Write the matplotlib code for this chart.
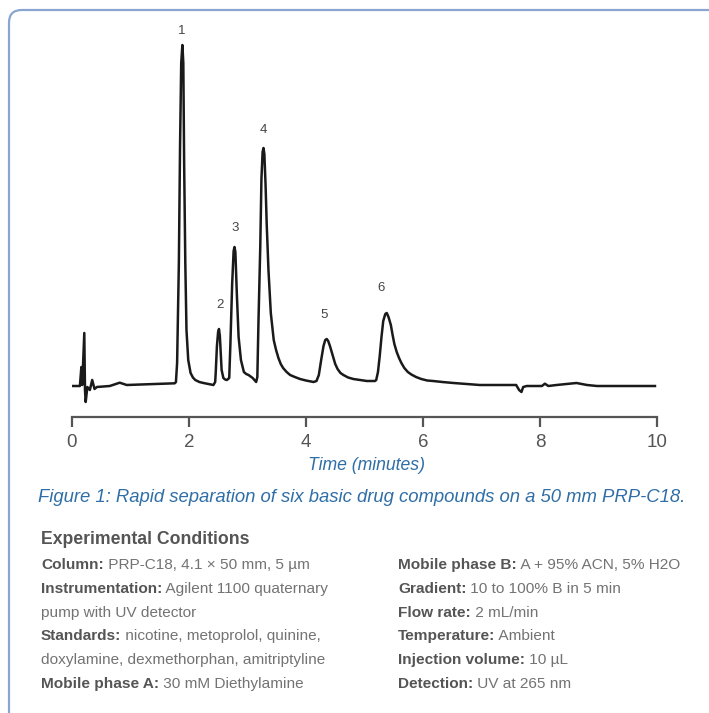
import matplotlib
matplotlib.use('Agg')
import matplotlib.pyplot as plt
from matplotlib.patches import FancyBboxPatch

plt.rcParams['font.family'] = ['Liberation Sans', 'DejaVu Sans']

# chromatogram trace (time in min, detector signal)
time = [-0.03, 0.14, 0.165, 0.18, 0.215, 0.227, 0.239, 0.267, 0.31, 0.35, 0.39, 0.43,
        0.65, 0.82, 0.94, 1.73, 1.76, 1.78, 1.80, 1.83, 1.85, 1.87, 1.89, 1.906, 1.92,
        1.94, 1.96, 1.99, 2.03, 2.07, 2.11, 2.18, 2.25, 2.42, 2.45, 2.46, 2.48, 2.50,
        2.515, 2.53, 2.545, 2.56, 2.59, 2.62, 2.65, 2.69, 2.71, 2.74, 2.765, 2.78,
        2.795, 2.82, 2.85, 2.89, 2.94, 2.98, 3.02, 3.09, 3.15, 3.17, 3.19, 3.22, 3.24,
        3.26, 3.275, 3.29, 3.31, 3.33, 3.36, 3.40, 3.45, 3.49, 3.53, 3.57, 3.61, 3.67,
        3.73, 3.81, 3.90, 4.00, 4.13, 4.18, 4.22, 4.26, 4.30, 4.33, 4.355, 4.38, 4.41,
        4.44, 4.47, 4.50, 4.54, 4.59, 4.64, 4.72, 4.81, 4.92, 5.04, 5.18, 5.20, 5.23,
        5.26, 5.29, 5.32, 5.355, 5.38, 5.41, 5.45, 5.48, 5.51, 5.55, 5.59, 5.63, 5.68,
        5.74, 5.80, 5.88, 5.97, 6.07, 6.17, 6.33, 6.52, 6.75, 6.97, 7.30, 7.59, 7.64,
        7.68, 7.71, 7.77, 8.03, 8.08, 8.14, 8.28, 8.45, 8.62, 8.80, 8.97, 9.96]
signal = [-2, -2, 17, -1, 51, -6, -18, -3, -6, 4, -5, -3,
          -2, 1.3, -1, 0.7, 0.7, 2, 21, 121, 237, 321, 339, 321, 221,
          121, 54, 24, 11, 6.5, 4, 2, 1, -1, 2, 12, 38, 52,
          55, 48, 30, 14, 6, 4.5, 4, 6, 40, 100, 133, 137,
          132, 90, 47, 24, 12, 10, 9, 6, 2, 7, 64, 137, 205,
          232, 236, 230, 200, 160, 114, 71, 44, 34, 26, 20, 16, 12,
          9, 7, 5, 3.5, 2, 3, 9, 24, 38, 44, 45, 43, 38,
          32, 26, 20, 15, 11, 9, 6.5, 5, 4, 3, 3, 4, 12,
          28, 47, 63, 70, 71, 67, 59, 49, 40, 32, 26, 21, 16,
          12, 9.5, 7, 5, 3.5, 3, 2, 1, 0, -1, -1, -1, -6,
          -8, -3, -2, -2, 0.3, -2, -1, 0, 1, -1, -2, -2]

peak_ids = ['1', '2', '3', '4', '5', '6']
peak_t = [1.88, 2.53, 2.79, 3.27, 4.31, 5.29]
peak_y = [353, 79, 156, 254, 69, 96]

xticks = [0, 2, 4, 6, 8, 10]

caption = 'Figure 1: Rapid separation of six basic drug compounds on a 50 mm PRP-C18.'
cond_left = [('Column:', ' PRP-C18, 4.1 × 50 mm, 5 µm'),
             ('Instrumentation:', ' Agilent 1100 quaternary'),
             ('', 'pump with UV detector'),
             ('Standards:', ' nicotine, metoprolol, quinine,'),
             ('', 'doxylamine, dexmethorphan, amitriptyline'),
             ('Mobile phase A:', ' 30 mM Diethylamine')]
cond_right = [('Mobile phase B:', ' A + 95% ACN, 5% H2O'),
              ('Gradient:', ' 10 to 100% B in 5 min'),
              ('Flow rate:', ' 2 mL/min'),
              ('Temperature:', ' Ambient'),
              ('Injection volume:', ' 10 µL'),
              ('Detection:', ' UV at 265 nm')]

W, H = 709, 713
blue = '#2f6ea6'
grey = '#737373'
dark = '#555555'


def fx(px):
    return px / W


def fy(py):
    return 1 - py / H


fig = plt.figure(figsize=(W / 100, H / 100), dpi=100)

# rounded frame, open to the right and bottom
frame = FancyBboxPatch((fx(9), fy(760)), fx(800), fy(10) - fy(760),
                       boxstyle='round,pad=0,rounding_size=0.018',
                       transform=fig.transFigure, fill=False,
                       edgecolor='#8aa5cf', linewidth=1.6)
fig.patches.append(frame)

ax = fig.add_axes([fx(71.7), fy(417), fx(657.3) - fx(71.7), fy(20) - fy(417)])
ax.plot(time, signal, color='#1a1a1a', lw=1.8, solid_joinstyle='round')
ax.set_xlim(0, 10)
ax.set_ylim(-33, 364)
for s in ['top', 'right', 'left']:
    ax.spines[s].set_visible(False)
ax.spines['bottom'].set_color(dark)
ax.spines['bottom'].set_linewidth(1.6)
ax.set_yticks([])
ax.set_xticks(xticks)
ax.set_xticklabels([str(v) for v in xticks])
ax.tick_params(axis='x', direction='out', length=7, width=1.6, color=dark,
               labelsize=13.5, labelcolor=dark, pad=5)
ax.patch.set_alpha(0)

for lab, t, y in zip(peak_ids, peak_t, peak_y):
    ax.text(t, y, lab, ha='center', va='center', fontsize=9.5, color='#444444')

fig.text(fx(366), fy(465), 'Time (minutes)', ha='center', va='center',
         fontsize=12.7, style='italic', color=blue)
fig.text(fx(38), fy(497), caption, ha='left', va='center',
         fontsize=13.3, style='italic', color=blue)

fig.text(fx(41), fy(540), 'Experimental Conditions', ha='left', va='center',
         fontsize=12.7, weight='bold', color=dark)


def cond_block(x, rows, y0, step):
    for i, (lbl, val) in enumerate(rows):
        y = y0 + i * step
        if lbl:
            t = fig.text(fx(x), fy(y), lbl, ha='left', va='center',
                         fontsize=11.1, weight='bold', color=dark)
            ax.annotate(val, xy=(1, 0.5), xycoords=t, ha='left', va='center',
                        fontsize=11.1, color=grey, annotation_clip=False)
        else:
            fig.text(fx(x), fy(y), val, ha='left', va='center',
                     fontsize=11.1, color=grey)


cond_block(41, cond_left, 565, 23.8)
cond_block(398, cond_right, 565, 23.8)

fig.savefig('out.png', dpi=100)
